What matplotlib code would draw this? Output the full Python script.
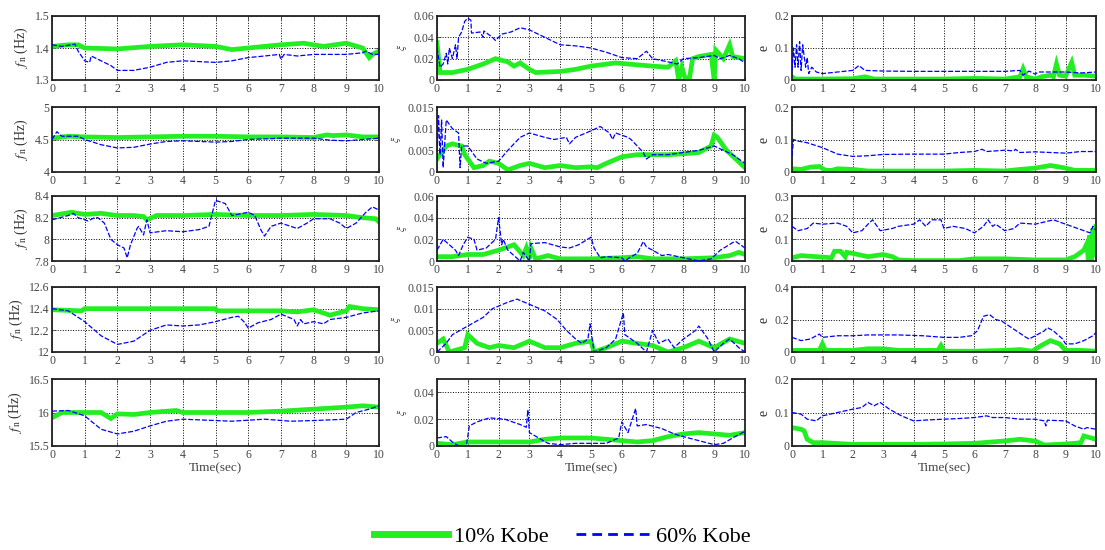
import matplotlib.pyplot as plt
import numpy as np

plt.rcParams['font.family'] = ['Liberation Serif', 'DejaVu Serif']
plt.rcParams['mathtext.fontset'] = 'stix'

# ---- data: [time, value] pairs ----
# natural frequency f_n, mode 1..5  (10% Kobe = green, 60% Kobe = blue)
fn1_10 = [[0, 1.405], [0.5, 1.41], [0.8, 1.41], [1, 1.40], [2, 1.397], [3, 1.405], [4, 1.41],
          [5, 1.405], [5.5, 1.395], [6, 1.40], [7, 1.41], [7.7, 1.415], [8.3, 1.405], [9, 1.415],
          [9.5, 1.40], [9.7, 1.37], [9.8, 1.38], [10, 1.39]]
fn1_60 = [[0, 1.41], [0.3, 1.405], [0.7, 1.412], [0.8, 1.39], [1.0, 1.36], [1.15, 1.355],
          [1.2, 1.375], [1.5, 1.36], [1.8, 1.345], [2.0, 1.33], [2.5, 1.33], [3.0, 1.34],
          [3.5, 1.355], [4, 1.36], [5, 1.355], [5.5, 1.36], [6, 1.37], [6.5, 1.375], [6.95, 1.38],
          [7.0, 1.365], [7.1, 1.38], [7.5, 1.375], [8, 1.38], [8.5, 1.38], [9, 1.38],
          [9.5, 1.385], [9.6, 1.39], [9.8, 1.38], [10, 1.38]]
fn2_10 = [[0, 4.52], [0.5, 4.55], [1, 4.54], [2, 4.53], [3, 4.54], [4, 4.55], [5, 4.55],
          [6, 4.54], [7, 4.54], [8, 4.53], [8.4, 4.57], [8.6, 4.56], [9, 4.57], [9.5, 4.54], [10, 4.54]]
fn2_60 = [[0, 4.50], [0.15, 4.62], [0.3, 4.55], [0.8, 4.55], [1.0, 4.50], [1.5, 4.42], [2, 4.37],
          [2.5, 4.38], [3, 4.43], [3.5, 4.47], [4, 4.48], [5, 4.46], [5.5, 4.47], [6, 4.50],
          [7, 4.52], [8, 4.52], [8.5, 4.49], [9, 4.48], [9.5, 4.50], [10, 4.52]]
fn3_10 = [[0, 8.22], [0.6, 8.25], [1, 8.23], [1.5, 8.24], [2, 8.22], [2.5, 8.22], [2.8, 8.21],
          [2.9, 8.18], [3.2, 8.22], [4, 8.22], [5, 8.23], [6, 8.22], [7, 8.22], [8, 8.23],
          [9, 8.22], [9.5, 8.20], [9.9, 8.19], [10, 8.16]]
fn3_60 = [[0, 8.18], [0.5, 8.22], [0.65, 8.24], [0.8, 8.20], [1.1, 8.17], [1.3, 8.20], [1.4, 8.20],
          [1.6, 8.15], [1.8, 8.0], [2.0, 7.95], [2.2, 7.92], [2.3, 7.83], [2.4, 7.95], [2.6, 8.10],
          [2.65, 8.12], [2.8, 8.04], [2.9, 8.18], [3.0, 8.06], [3.5, 8.08], [4, 8.07], [4.5, 8.09],
          [4.8, 8.12], [5.0, 8.36], [5.3, 8.33], [5.5, 8.22], [6, 8.25], [6.2, 8.22], [6.4, 8.08],
          [6.5, 8.03], [6.7, 8.12], [7, 8.15], [7.3, 8.12], [7.5, 8.10], [7.8, 8.15], [8, 8.19],
          [8.5, 8.19], [8.8, 8.15], [9.0, 8.10], [9.3, 8.15], [9.6, 8.25], [9.8, 8.30], [10, 8.27]]
fn4_10 = [[0, 12.39], [0.9, 12.38], [1.0, 12.40], [5, 12.40], [5.05, 12.38], [7, 12.38],
          [7.5, 12.37], [8, 12.39], [8.5, 12.34], [9, 12.38], [9.1, 12.42], [9.5, 12.40], [10, 12.39]]
fn4_60 = [[0, 12.40], [0.5, 12.38], [1.0, 12.28], [1.5, 12.15], [2.0, 12.07], [2.5, 12.10],
          [3.0, 12.20], [3.5, 12.25], [4.0, 12.24], [4.5, 12.25], [5.0, 12.28], [5.5, 12.32],
          [5.7, 12.33], [5.9, 12.27], [6.0, 12.22], [6.3, 12.27], [6.7, 12.30], [7.0, 12.35],
          [7.4, 12.30], [7.5, 12.24], [7.6, 12.30], [7.7, 12.26], [8, 12.28], [8.3, 12.26],
          [8.5, 12.30], [9, 12.32], [9.5, 12.36], [10, 12.38]]
fn5_10 = [[0, 15.92], [0.3, 16.0], [1.5, 16.0], [1.8, 15.91], [2, 15.98], [2.5, 15.97], [3, 16.0],
          [3.8, 16.03], [4, 16.0], [6, 16.0], [7, 16.02], [8, 16.05], [9, 16.08], [9.5, 16.1], [10, 16.08]]
fn5_60 = [[0, 16.02], [0.5, 16.03], [1.0, 15.95], [1.5, 15.75], [2.0, 15.68], [2.5, 15.72],
          [3.0, 15.80], [3.5, 15.87], [4.0, 15.90], [5.0, 15.88], [5.5, 15.87], [6.5, 15.90],
          [7.3, 15.87], [8, 15.88], [9, 15.90], [9.3, 16.0], [9.7, 16.05], [10, 16.1]]

# damping ratio xi
xi1_10 = [[0, 0.035], [0.1, 0.007], [0.5, 0.007], [1.0, 0.010], [1.5, 0.015], [1.9, 0.020],
          [2.3, 0.017], [2.5, 0.013], [2.7, 0.016], [3.0, 0.010], [3.2, 0.007], [4, 0.008],
          [4.5, 0.010], [5, 0.013], [5.8, 0.016], [6.2, 0.015], [7, 0.013], [7.5, 0.012],
          [7.75, 0.018], [7.85, 0.0], [7.95, 0.012], [8.05, 0.002], [8.2, 0.002], [8.3, 0.020],
          [8.5, 0.022], [8.9, 0.024], [9.0, 0.0], [9.05, 0.028], [9.3, 0.020], [9.5, 0.033],
          [9.6, 0.022], [10, 0.020]]
xi1_60 = [[0, 0.030], [0.1, 0.012], [0.2, 0.015], [0.3, 0.025], [0.35, 0.015], [0.4, 0.030],
          [0.5, 0.020], [0.6, 0.033], [0.65, 0.020], [0.7, 0.040], [0.8, 0.045], [0.9, 0.055],
          [1.0, 0.058], [1.1, 0.056], [1.12, 0.044], [1.4, 0.045], [1.5, 0.040], [1.52, 0.046],
          [1.8, 0.040], [1.9, 0.037], [2.1, 0.043], [2.4, 0.045], [2.7, 0.049], [3.0, 0.047],
          [3.5, 0.040], [4.0, 0.033], [4.5, 0.032], [5.0, 0.030], [5.5, 0.026], [6.0, 0.021],
          [6.5, 0.020], [6.8, 0.027], [7.0, 0.020], [7.5, 0.017], [7.8, 0.015], [8.0, 0.020],
          [8.5, 0.021], [9.0, 0.023], [9.2, 0.020], [9.5, 0.023], [9.8, 0.020], [10, 0.016]]
xi2_10 = [[0, 0.003], [0.3, 0.006], [0.5, 0.0065], [0.8, 0.006], [0.9, 0.004], [1.2, 0.001],
          [1.5, 0.0015], [1.7, 0.0025], [2.0, 0.002], [2.3, 0.0005], [2.7, 0.0015], [3.0, 0.002],
          [3.5, 0.001], [4, 0.0015], [4.5, 0.001], [5.0, 0.0012], [5.2, 0.001], [5.5, 0.002],
          [6.0, 0.0035], [6.5, 0.004], [7, 0.004], [7.5, 0.004], [8, 0.0042], [8.5, 0.0045],
          [8.9, 0.006], [9.0, 0.0085], [9.1, 0.008], [9.4, 0.005], [9.7, 0.003], [10, 0.001]]
xi2_60 = [[0, 0.003], [0.05, 0.013], [0.1, 0.004], [0.15, 0.012], [0.2, 0.001], [0.3, 0.012],
          [0.5, 0.010], [0.7, 0.009], [0.75, 0.001], [0.8, 0.006], [1.0, 0.006], [1.3, 0.003],
          [1.6, 0.002], [2.0, 0.0025], [2.3, 0.005], [2.7, 0.008], [3.0, 0.009], [3.5, 0.008],
          [3.8, 0.0075], [4.2, 0.008], [4.3, 0.0065], [4.5, 0.008], [5.0, 0.0095], [5.3, 0.0105],
          [5.6, 0.009], [5.7, 0.0075], [5.8, 0.009], [6.2, 0.008], [6.3, 0.0075], [6.5, 0.006],
          [6.7, 0.0045], [6.8, 0.003], [7.0, 0.004], [7.5, 0.004], [8, 0.0045], [8.5, 0.005],
          [9.0, 0.006], [9.3, 0.005], [9.6, 0.004], [10, 0.002]]
xi3_10 = [[0, 0.004], [0.5, 0.004], [1.0, 0.006], [1.5, 0.006], [2.0, 0.010], [2.5, 0.015],
          [2.8, 0.005], [2.9, 0.012], [3.0, 0.002], [3.05, 0.012], [3.2, 0.002], [3.6, 0.005],
          [4, 0.002], [5, 0.002], [6, 0.003], [6.5, 0.004], [7, 0.002], [8, 0.002], [9, 0.003],
          [9.5, 0.005], [9.8, 0.008], [10, 0.006]]
xi3_60 = [[0, 0.010], [0.2, 0.020], [0.4, 0.015], [0.6, 0.010], [0.7, 0.005], [0.85, 0.015],
          [1.0, 0.022], [1.2, 0.020], [1.3, 0.010], [1.6, 0.012], [1.9, 0.020], [2.0, 0.040],
          [2.1, 0.015], [2.15, 0.020], [2.3, 0.010], [2.5, 0.005], [2.7, 0.0], [2.8, 0.008],
          [3.0, 0.0], [3.05, 0.016], [3.5, 0.017], [4.0, 0.013], [4.3, 0.012], [4.6, 0.015],
          [5.0, 0.022], [5.1, 0.012], [5.3, 0.003], [5.5, 0.004], [6.0, 0.003], [6.1, 0.0],
          [6.3, 0.004], [6.5, 0.007], [6.7, 0.018], [6.8, 0.013], [7.0, 0.010], [7.3, 0.005],
          [7.5, 0.006], [8.0, 0.003], [8.5, 0.0], [8.9, 0.002], [9.2, 0.010], [9.6, 0.017],
          [9.7, 0.018], [9.9, 0.014], [10, 0.012]]
xi4_10 = [[0, 0.002], [0.2, 0.003], [0.4, 0.0], [0.9, 0.001], [1.0, 0.004], [1.3, 0.002],
          [1.7, 0.001], [2, 0.0015], [2.5, 0.001], [3, 0.0025], [3.5, 0.001], [4, 0.001],
          [4.5, 0.002], [5.0, 0.0025], [5.1, 0.0], [5.5, 0.001], [6.0, 0.0025], [6.5, 0.002],
          [7, 0.0015], [7.5, 0.0], [8, 0.001], [8.5, 0.0025], [9.0, 0.001], [9.5, 0.003], [10, 0.002]]
xi4_60 = [[0, 0.0], [0.3, 0.002], [0.5, 0.004], [1.0, 0.006], [1.5, 0.008], [1.8, 0.010],
          [2.3, 0.0115], [2.6, 0.0122], [3.0, 0.011], [3.5, 0.0095], [3.9, 0.0075], [4.2, 0.005],
          [4.5, 0.003], [4.7, 0.002], [4.9, 0.003], [4.97, 0.0065], [5.1, 0.0], [5.5, 0.001],
          [5.8, 0.003], [6.05, 0.009], [6.1, 0.004], [6.5, 0.002], [6.8, 0.0], [7.0, 0.005],
          [7.2, 0.002], [7.5, 0.003], [7.7, 0.001], [8.0, 0.003], [8.4, 0.005], [8.5, 0.006],
          [8.8, 0.003], [9.0, 0.0], [9.3, 0.002], [9.5, 0.003], [9.8, 0.001], [10, 0.0]]
xi5_10 = [[0, 0.002], [0.5, 0.001], [1.0, 0.003], [2.0, 0.003], [3.0, 0.003], [3.5, 0.005],
          [4.0, 0.006], [5.0, 0.006], [6.0, 0.004], [6.5, 0.003], [7.0, 0.004], [7.5, 0.007],
          [8.0, 0.009], [8.5, 0.010], [9.0, 0.009], [9.5, 0.008], [10, 0.010]]
xi5_60 = [[0, 0.006], [0.3, 0.007], [0.5, 0.003], [0.7, 0.0], [0.95, 0.0], [1.05, 0.015],
          [1.3, 0.018], [1.7, 0.021], [2.2, 0.020], [2.7, 0.016], [2.9, 0.014], [2.95, 0.027],
          [3.0, 0.010], [3.3, 0.006], [3.6, 0.002], [4.0, 0.001], [4.5, 0.002], [5, 0.002],
          [5.5, 0.002], [5.9, 0.006], [6.0, 0.018], [6.2, 0.010], [6.45, 0.028], [6.5, 0.015],
          [6.8, 0.016], [7.3, 0.013], [7.7, 0.009], [8.0, 0.007], [8.5, 0.004], [9.0, 0.001],
          [9.3, 0.002], [9.6, 0.006], [10, 0.011]]

# error e
e1_10 = [[0, 0.010], [0.1, 0.003], [1, 0.003], [2, 0.004], [2.4, 0.010], [2.7, 0.003], [5, 0.003],
         [6, 0.005], [7, 0.003], [7.5, 0.010], [7.6, 0.035], [7.7, 0.010], [8, 0.003], [8.2, 0.010],
         [8.5, 0.015], [8.6, 0.010], [8.7, 0.050], [8.8, 0.015], [9.0, 0.012], [9.2, 0.055],
         [9.3, 0.015], [9.6, 0.015], [10, 0.012]]
e1_60 = [[0, 0.03], [0.05, 0.10], [0.1, 0.04], [0.15, 0.11], [0.2, 0.04], [0.25, 0.12], [0.3, 0.03],
         [0.35, 0.11], [0.45, 0.04], [0.5, 0.07], [0.55, 0.02], [0.65, 0.04], [0.8, 0.025],
         [1.0, 0.02], [1.5, 0.025], [2.0, 0.03], [2.2, 0.045], [2.4, 0.03], [3, 0.028], [4, 0.027],
         [5, 0.027], [6, 0.027], [7, 0.027], [7.5, 0.03], [7.6, 0.015], [7.8, 0.028], [8.0, 0.018],
         [8.1, 0.025], [9, 0.025], [9.5, 0.022], [10, 0.025]]
e2_10 = [[0, 0.010], [0.3, 0.008], [0.6, 0.015], [0.9, 0.017], [1.1, 0.005], [1.3, 0.005],
         [1.5, 0.010], [2, 0.008], [2.5, 0.003], [5, 0.003], [6, 0.005], [7, 0.003], [7.5, 0.008],
         [8, 0.012], [8.5, 0.020], [9.0, 0.012], [9.3, 0.005], [10, 0.005]]
e2_60 = [[0, 0.05], [0.05, 0.10], [0.2, 0.095], [0.5, 0.09], [1.0, 0.075], [1.5, 0.055],
         [2.0, 0.048], [2.5, 0.05], [3, 0.054], [4, 0.055], [5, 0.055], [5.5, 0.06], [6.0, 0.063],
         [6.25, 0.07], [6.4, 0.063], [7.0, 0.067], [7.3, 0.065], [7.35, 0.07], [7.5, 0.06],
         [8, 0.062], [8.5, 0.06], [9, 0.058], [9.5, 0.063], [10, 0.063]]
e3_10 = [[0, 0.015], [0.3, 0.025], [0.8, 0.02], [1.3, 0.015], [1.4, 0.045], [1.6, 0.045],
         [1.75, 0.02], [1.8, 0.04], [2.0, 0.035], [2.5, 0.02], [3.0, 0.03], [3.3, 0.02], [3.5, 0.005],
         [4, 0.002], [5.5, 0.002], [6, 0.01], [7, 0.01], [8, 0.005], [9.0, 0.005], [9.3, 0.02],
         [9.6, 0.05], [9.7, 0.08], [9.75, 0.0], [9.8, 0.12], [9.85, 0.0], [9.9, 0.15],
         [9.95, 0.02], [10, 0.16]]
e3_60 = [[0, 0.16], [0.2, 0.14], [0.5, 0.15], [0.7, 0.175], [1.0, 0.17], [1.5, 0.175], [1.8, 0.16],
         [2.0, 0.13], [2.3, 0.14], [2.5, 0.17], [2.65, 0.19], [2.9, 0.14], [3.3, 0.15], [3.5, 0.16],
         [4.0, 0.17], [4.2, 0.19], [4.4, 0.16], [4.6, 0.19], [4.9, 0.19], [5.0, 0.15], [5.3, 0.16],
         [5.7, 0.15], [6.0, 0.13], [6.3, 0.16], [6.45, 0.19], [6.6, 0.16], [6.7, 0.17], [7.0, 0.14],
         [7.3, 0.15], [7.5, 0.175], [8.0, 0.17], [8.6, 0.19], [9.0, 0.17], [9.6, 0.14], [9.8, 0.13],
         [9.9, 0.16], [10, 0.14]]
e4_10 = [[0, 0.01], [0.9, 0.01], [1.0, 0.05], [1.1, 0.01], [2, 0.01], [2.5, 0.02], [3, 0.02],
         [3.5, 0.01], [4.8, 0.01], [4.9, 0.04], [5.0, 0.005], [6, 0.005], [7, 0.01], [7.5, 0.015],
         [7.9, 0.005], [8.2, 0.04], [8.5, 0.07], [8.8, 0.05], [9.0, 0.01], [9.5, 0.01], [10, 0.005]]
e4_60 = [[0, 0.09], [0.3, 0.07], [0.6, 0.08], [0.8, 0.10], [0.9, 0.11], [1.0, 0.09], [1.5, 0.10],
         [2.0, 0.10], [2.5, 0.105], [3.5, 0.105], [4.3, 0.10], [5.0, 0.09], [5.5, 0.09], [5.9, 0.10],
         [6.1, 0.13], [6.3, 0.22], [6.5, 0.23], [6.7, 0.20], [6.9, 0.19], [7.3, 0.14], [7.7, 0.09],
         [7.8, 0.08], [8.0, 0.10], [8.3, 0.13], [8.4, 0.15], [8.6, 0.13], [8.9, 0.08], [9.0, 0.05],
         [9.3, 0.05], [9.6, 0.07], [9.9, 0.10], [10, 0.12]]
e5_10 = [[0, 0.055], [0.3, 0.05], [0.4, 0.045], [0.5, 0.02], [0.7, 0.01], [1.0, 0.01], [2.0, 0.005],
         [3, 0.005], [4, 0.005], [5, 0.006], [6, 0.008], [7, 0.015], [7.5, 0.02], [8.0, 0.015],
         [8.3, 0.003], [8.8, 0.005], [9.3, 0.008], [9.5, 0.01], [9.6, 0.03], [9.8, 0.025], [10, 0.02]]
e5_60 = [[0, 0.10], [0.3, 0.095], [0.5, 0.08], [0.8, 0.075], [1.0, 0.09], [1.5, 0.10], [2.0, 0.11],
         [2.3, 0.115], [2.5, 0.13], [2.7, 0.12], [2.9, 0.13], [3.2, 0.11], [3.6, 0.09], [4.0, 0.075],
         [4.5, 0.078], [5, 0.08], [5.5, 0.082], [6.0, 0.085], [6.4, 0.09], [6.6, 0.085], [7.0, 0.085],
         [7.5, 0.08], [8.0, 0.08], [8.3, 0.075], [8.35, 0.06], [8.4, 0.077], [9.0, 0.075],
         [9.3, 0.06], [9.6, 0.05], [9.7, 0.055], [10, 0.05]]

series = [
    [(fn1_10, fn1_60), (xi1_10, xi1_60), (e1_10, e1_60)],
    [(fn2_10, fn2_60), (xi2_10, xi2_60), (e2_10, e2_60)],
    [(fn3_10, fn3_60), (xi3_10, xi3_60), (e3_10, e3_60)],
    [(fn4_10, fn4_60), (xi4_10, xi4_60), (e4_10, e4_60)],
    [(fn5_10, fn5_60), (xi5_10, xi5_60), (e5_10, e5_60)],
]

fn_ticks = [[1.3, 1.4, 1.5], [4, 4.5, 5], [7.8, 8, 8.2, 8.4], [12, 12.2, 12.4, 12.6], [15.5, 16, 16.5]]
xi_ticks = [[0, 0.02, 0.04, 0.06], [0, 0.005, 0.01, 0.015], [0, 0.02, 0.04, 0.06],
            [0, 0.005, 0.01, 0.015], [0, 0.02, 0.04]]
xi_top = [0.06, 0.015, 0.06, 0.015, 0.05]
e_ticks = [[0, 0.1, 0.2], [0, 0.1, 0.2], [0, 0.1, 0.2, 0.3], [0, 0.2, 0.4], [0, 0.1, 0.2]]
ylabels = [r'$f_{\,\mathrm{n}}$ (Hz)', r'$\xi$', 'e']

green = '#22ee22'
blue = '#0000ff'

W, H = 1105, 550
rows_px = [(16, 80), (107, 172), (196, 261), (287, 352), (379, 446)]
cols_px = [(52, 379), (437, 745), (792, 1096)]

fig = plt.figure(figsize=(11.05, 5.5), dpi=100)

for r in range(5):
    for c in range(3):
        top, bot = rows_px[r]
        left, right = cols_px[c]
        ax = fig.add_axes([left / W, 1 - bot / H, (right - left) / W, (bot - top) / H])
        g = np.array(series[r][c][0])
        b = np.array(series[r][c][1])
        ax.plot(g[:, 0], g[:, 1], color=green, lw=3.4, solid_joinstyle='miter', zorder=2)
        ax.plot(b[:, 0], b[:, 1], color=blue, lw=0.9, dashes=(4, 1.5), zorder=3)
        ax.set_xlim(0, 10)
        ax.set_xticks(range(11))
        if c == 0:
            tk = fn_ticks[r]
            ax.set_ylim(tk[0], tk[-1])
        elif c == 1:
            tk = xi_ticks[r]
            ax.set_ylim(0, xi_top[r])
        else:
            tk = e_ticks[r]
            ax.set_ylim(tk[0], tk[-1])
        ax.set_yticks(tk)
        ax.set_yticklabels([f'{v:g}' for v in tk])
        ax.set_ylabel(ylabels[c], fontsize=10 if c != 1 else 8, color='#333333', labelpad=3)
        ax.grid(True, color='black', linestyle=':', linewidth=0.7)
        ax.tick_params(direction='in', length=3, width=0.6, labelsize=8.5, colors='#444444',
                       pad=2, top=True, right=True)
        for s in ax.spines.values():
            s.set_linewidth(1.3)
            s.set_color('#222222')
        if r == 4:
            ax.set_xlabel('Time(sec)', fontsize=9.5, color='#444444', labelpad=1)

h1, = plt.plot([], [], color=green, lw=5)
h2, = plt.plot([], [], color=blue, lw=2, dashes=(3.5, 2.2))
fig.legend([h1, h2], ['10% Kobe', '60% Kobe'], loc='center', bbox_to_anchor=(0.509, 0.024),
           ncol=2, frameon=False, fontsize=16, handlelength=3.3, handletextpad=0.3, columnspacing=1.2)

fig.savefig('out.png', dpi=100)
